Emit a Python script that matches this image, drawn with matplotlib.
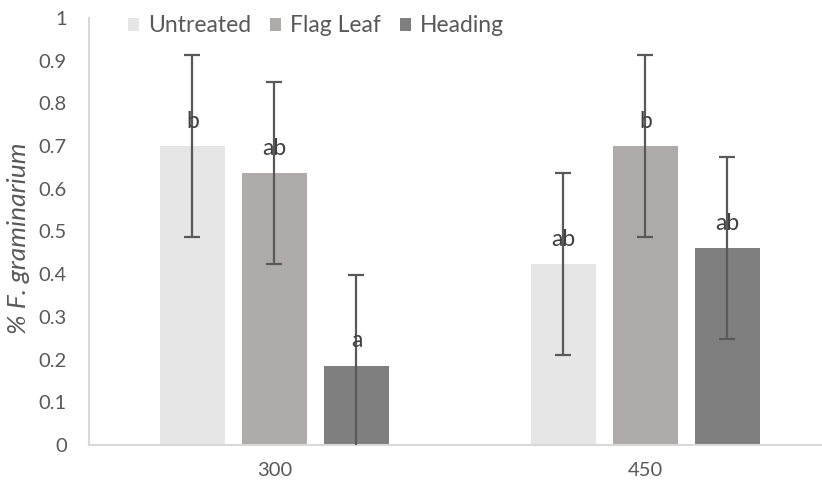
import matplotlib.pyplot as plt
import numpy as np

# Fusarium graminearum percentage by sampling timing and seeding rate
seeding_rates = ["300", "450"]
treatments = ["Untreated", "Flag Leaf", "Heading"]
untreated = [0.700, 0.423]
flag_leaf = [0.637, 0.700]
heading = [0.186, 0.461]
error = [0.213, 0.213]
letters = [["b", "ab"], ["ab", "b"], ["a", "ab"]]

colors = ["#E6E6E6", "#AFABAB", "#7F7F7F"]
text_color = "#595959"

plt.rcParams["font.family"] = ["Lato", "DejaVu Sans"]

fig = plt.figure(figsize=(8.22, 4.90), dpi=100)
ax = fig.add_axes([89 / 822, 45 / 490, 1 - 89 / 822, 427 / 490])

x = np.arange(len(seeding_rates))
width = 0.175
offset = 0.221

for i, (name, values) in enumerate(zip(treatments, [untreated, flag_leaf, heading])):
    pos = x + (i - 1) * offset
    ax.bar(pos, values, width, color=colors[i], label=name, zorder=2)
    ax.errorbar(pos, values, yerr=error, fmt="none", ecolor=text_color,
                elinewidth=1.6, capsize=6, capthick=1.6, zorder=3)
    for xp, v, lab in zip(pos, values, letters[i]):
        ax.text(xp, v + 0.058, lab, ha="center", va="center",
                color="#404040", fontsize=16.5, zorder=4)

ax.set_ylim(0, 1)
ax.set_xlim(-0.5, 1.476)
ax.set_yticks(np.arange(0, 1.01, 0.1))
ax.set_yticklabels(["0"] + [f"{v:.1f}" for v in np.arange(0.1, 0.95, 0.1)] + ["1"])
ax.set_xticks(x)
ax.set_xticklabels(seeding_rates)
ax.tick_params(axis="both", length=0, colors=text_color, labelsize=14.5)
ax.tick_params(axis="y", pad=16)
ax.tick_params(axis="x", pad=12)

for side in ["top", "right"]:
    ax.spines[side].set_visible(False)
for side in ["left", "bottom"]:
    ax.spines[side].set_color("#D9D9D9")
    ax.spines[side].set_linewidth(1.5)

fig.text(19 / 822, 1 - 238 / 490, "% F. graminarium", rotation=90,
         ha="center", va="center", style="italic", color=text_color, fontsize=19)

fig.legend(loc="center", bbox_to_anchor=(316 / 822, 1 - 26 / 490), ncol=3,
           frameon=False, handlelength=0.5, handleheight=0.5, handletextpad=0.4,
           columnspacing=0.8, labelcolor=text_color, fontsize=16.5)

fig.savefig("out.png", dpi=100)
